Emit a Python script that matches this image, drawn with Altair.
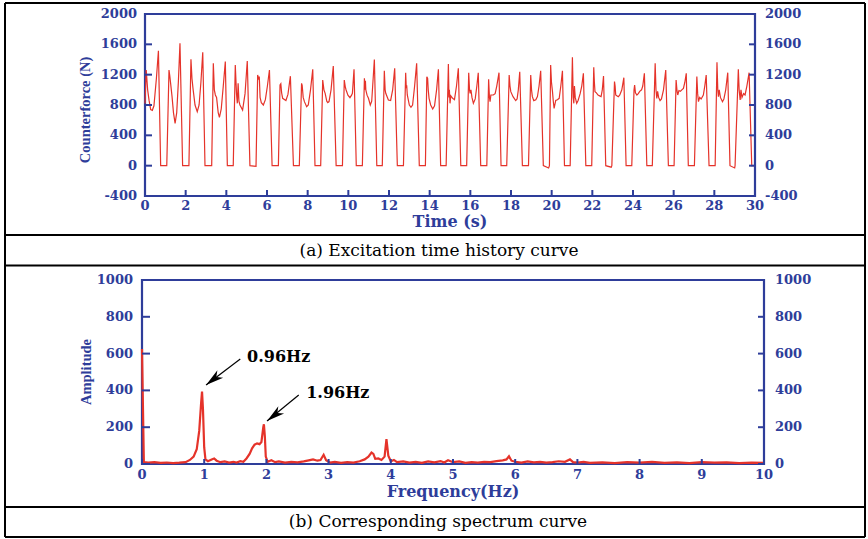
import altair as alt
import pandas as pd

# ---------------- data ----------------
time_s = [
    0.00, 0.06, 0.13, 0.20, 0.28, 0.36, 0.44, 0.56, 0.66, 0.77, 1.07,
    1.18, 1.22, 1.26, 1.33, 1.40, 1.48, 1.56, 1.64, 1.72, 1.85, 2.16,
    2.26, 2.31, 2.36, 2.46, 2.57, 2.66, 2.75, 2.84, 2.95, 3.28,
    3.36, 3.41, 3.46, 3.52, 3.60, 3.66, 3.75, 3.85, 3.95, 4.05, 4.34,
    4.44, 4.50, 4.54, 4.58, 4.62, 4.67, 4.80, 4.92, 5.03, 5.16, 5.46,
    5.54, 5.58, 5.62, 5.66, 5.72, 5.82, 5.92, 6.02, 6.12, 6.25, 6.56,
    6.64, 6.68, 6.72, 6.77, 6.93, 7.03, 7.15, 7.30, 7.59,
    7.70, 7.73, 7.78, 7.84, 7.95, 8.03, 8.14, 8.25, 8.36, 8.64,
    8.74, 8.80, 8.86, 8.94, 8.99, 9.05, 9.15, 9.26, 9.40, 9.71,
    9.80, 9.85, 9.89, 9.98, 10.08, 10.16, 10.20, 10.28, 10.39, 10.69,
    10.79, 10.82, 10.84, 10.86, 10.92, 10.99, 11.08, 11.15, 11.28, 11.40, 11.67,
    11.77, 11.81, 11.84, 11.97, 12.08, 12.18, 12.28, 12.41, 12.71,
    12.82, 12.85, 12.87, 12.90, 13.00, 13.08, 13.16, 13.26, 13.36, 13.49, 13.79,
    13.86, 13.90, 13.93, 13.97, 14.05, 14.15, 14.24, 14.34, 14.43, 14.54, 14.81,
    14.92, 14.95, 14.97, 15.00, 15.04, 15.13, 15.22, 15.32, 15.41, 15.53, 15.82,
    15.92, 15.96, 15.99, 16.03, 16.08, 16.15, 16.24, 16.32, 16.39, 16.51, 16.81,
    16.90, 16.94, 16.97, 17.01, 17.13, 17.22, 17.30, 17.41, 17.51, 17.79,
    17.91, 17.95, 17.99, 18.10, 18.23, 18.30, 18.36, 18.43, 18.56, 18.86,
    18.97, 19.01, 19.05, 19.12, 19.22, 19.30, 19.38, 19.46, 19.59, 19.85, 19.89,
    19.95, 19.99, 20.04, 20.08, 20.12, 20.20, 20.28, 20.37, 20.45, 20.53, 20.63, 20.91,
    21.02, 21.06, 21.09, 21.12, 21.16, 21.23, 21.30, 21.40, 21.48, 21.56, 21.68, 21.97,
    22.07, 22.10, 22.13, 22.20, 22.28, 22.36, 22.43, 22.49, 22.55, 22.66, 22.93, 22.96,
    23.09, 23.12, 23.15, 23.22, 23.28, 23.35, 23.45, 23.55, 23.66, 23.94,
    24.05, 24.08, 24.12, 24.19, 24.26, 24.33, 24.42, 24.48, 24.56, 24.68, 24.95,
    25.09, 25.13, 25.17, 25.21, 25.26, 25.33, 25.40, 25.50, 25.61, 25.74, 26.02,
    26.12, 26.16, 26.20, 26.26, 26.33, 26.40, 26.48, 26.55, 26.62, 26.72, 27.02,
    27.14, 27.18, 27.22, 27.28, 27.35, 27.46, 27.53, 27.60, 27.74, 28.04,
    28.13, 28.17, 28.20, 28.24, 28.30, 28.40, 28.47, 28.56, 28.66, 28.77, 29.00, 29.02,
    29.18, 29.22, 29.27, 29.31, 29.36, 29.44, 29.51, 29.60, 29.71, 29.84, 30.00,
]
force_n = [
    820, 1260, 1000, 860, 740, 730, 790, 1150, 1516, 0, 0,
    1262, 1180, 1086, 910, 700, 558, 700, 1100, 1613, 0, 0,
    1402, 1150, 1020, 800, 712, 800, 1100, 1495, 0, 0,
    1350, 1000, 932, 900, 700, 637, 750, 1050, 1372, 0, 0,
    1328, 950, 822, 1086, 850, 800, 734, 950, 1380, 0, -10,
    1196, 1150, 1174, 900, 830, 800, 870, 1050, 1262, 0, 0,
    1064, 1080, 960, 888, 860, 940, 1180, 0, 0,
    1086, 1060, 900, 844, 778, 800, 1000, 1270, 0, 0,
    1130, 1000, 954, 850, 832, 845, 1000, 1313, 0, 0,
    1130, 1040, 998, 930, 897, 930, 954, 1270, 0, 0,
    1152, 1000, 1120, 998, 930, 888, 800, 850, 1401, 0, 0,
    1252, 1000, 954, 866, 860, 1000, 1283, 0, 0,
    1226, 1021, 1060, 932, 800, 770, 800, 1050, 1349, 0, 0,
    1174, 1150, 1000, 888, 800, 748, 790, 1000, 1270, 0, 0,
    1340, 900, 1000, 822, 920, 888, 870, 1050, 1283, 0, 0,
    1226, 1000, 954, 1000, 900, 822, 880, 1050, 1226, 0, 0,
    1138, 900, 844, 932, 932, 950, 1050, 1226, 0, 0,
    1196, 1050, 976, 910, 858, 880, 1000, 1239, 0, 0,
    1196, 1000, 910, 858, 870, 910, 1050, 1252, 0, -30, 0,
    1327, 1100, 976, 850, 756, 860, 870, 888, 1050, 1252, 0, 0,
    1428, 900, 822, 1050, 900, 822, 860, 950, 1050, 1217, 0, 0,
    1296, 1100, 976, 960, 930, 920, 910, 1000, 1182, 0, -20, 0,
    1108, 1050, 932, 920, 910, 932, 1000, 1160, 0, 0,
    998, 1064, 960, 932, 950, 980, 1000, 1050, 1217, 0, 0,
    1349, 1000, 888, 980, 900, 858, 880, 1000, 1261, 0, 0,
    1130, 1000, 932, 990, 980, 1000, 1020, 1100, 1217, 0, 0,
    1174, 950, 844, 900, 880, 932, 1050, 1196, 0, 0,
    1362, 1000, 910, 1000, 900, 844, 880, 1000, 1226, 0, -30, 0,
    1270, 1000, 866, 1000, 900, 950, 932, 1050, 1226, 0, 0,
]

freq_hz = [
    0.00, 0.03, 0.10, 0.20, 0.30, 0.40, 0.50, 0.60, 0.70, 0.77, 0.83, 0.88,
    0.92, 0.95, 0.965, 0.98, 1.00, 1.02, 1.06, 1.12, 1.16, 1.20, 1.26, 1.33,
    1.40, 1.47, 1.52, 1.58, 1.63, 1.68, 1.73, 1.77, 1.81, 1.85, 1.89, 1.92,
    1.95, 1.96, 1.975, 1.99, 2.02, 2.08, 2.14, 2.20, 2.30, 2.40, 2.50, 2.60,
    2.68, 2.75, 2.82, 2.87, 2.92, 2.96, 3.02, 3.10, 3.20, 3.30, 3.40, 3.50,
    3.58, 3.64, 3.69, 3.72, 3.75, 3.80, 3.85, 3.90, 3.93, 3.96, 4.00, 4.05,
    4.10, 4.20, 4.30, 4.40, 4.50, 4.60, 4.70, 4.80, 4.86, 4.92, 5.00, 5.10,
    5.20, 5.30, 5.40, 5.50, 5.60, 5.70, 5.80, 5.86, 5.90, 5.94, 6.00, 6.10,
    6.20, 6.30, 6.40, 6.50, 6.60, 6.70, 6.80, 6.88, 6.93, 7.00, 7.10, 7.20,
    7.40, 7.60, 7.80, 8.00, 8.20, 8.40, 8.60, 8.80, 9.00, 9.20, 9.40, 9.60,
    9.80, 10.00,
]
amplitude = [
    625, 10, 8, 10, 6, 8, 5, 7, 10, 22, 40, 80,
    180, 330, 394, 300, 90, 25, 15, 25, 30, 18, 10, 14,
    8, 12, 8, 15, 12, 30, 55, 85, 105, 112, 108, 120,
    200, 216, 150, 40, 12, 20, 10, 14, 8, 12, 9, 14,
    20, 25, 18, 22, 50, 20, 8, 12, 6, 10, 8, 15,
    25, 40, 62, 55, 28, 30, 22, 40, 135, 45, 15, 22,
    10, 14, 8, 12, 6, 14, 9, 16, 8, 20, 10, 14,
    6, 10, 8, 12, 10, 16, 20, 25, 42, 18, 12, 8,
    14, 9, 12, 7, 10, 15, 12, 25, 10, 8, 12, 6,
    9, 5, 10, 7, 12, 6, 9, 5, 10, 7, 9, 5,
    8, 6,
]

a_y_ticks = [-400, 0, 400, 800, 1200, 1600, 2000]
a_y_labels = ["-400", "0", "400", "800", "1200", "1600", "2000"]
a_x_ticks = [0, 2, 4, 6, 8, 10, 12, 14, 16, 18, 20, 22, 24, 26, 28, 30]
a_x_labels = [str(v) for v in a_x_ticks]
b_y_ticks = [0, 200, 400, 600, 800, 1000]
b_y_labels = ["0", "200", "400", "600", "800", "1000"]
b_x_ticks = [0, 1, 2, 3, 4, 5, 6, 7, 8, 9, 10]
b_x_labels = [str(v) for v in b_x_ticks]

ann_label = ["0.96Hz", "1.96Hz"]
ann_tail_f = [1.58, 2.52]
ann_tail_a = [571, 375]
ann_tip_f = [1.03, 2.01]
ann_tip_a = [429, 234]
ann_text_f = [1.69, 2.64]
ann_text_a = [582, 386]

# ---------------- styling ----------------
BLUE = "#2E3D9A"
RED = "#E5332A"
NUMFONT = "DejaVu Serif"
SERIF = "Liberation Serif"

xa = alt.Scale(domain=[0, 30], range=[145, 755], nice=False, zero=False)
ya = alt.Scale(domain=[-400, 2000], range=[196, 14], nice=False, zero=False)
xb = alt.Scale(domain=[0, 10], range=[142, 764], nice=False, zero=False)
yb = alt.Scale(domain=[0, 1000], range=[464, 280], nice=False, zero=False)

# ---------------- panel A ----------------
dfA = pd.DataFrame({"t": time_s, "v": force_n})
frameA = pd.DataFrame({"x0": [0], "x1": [30], "y0": [-400], "y1": [2000]})
ytA = pd.DataFrame({"v": a_y_ticks, "lab": a_y_labels, "x0": 0, "x1": 30})
xtA = pd.DataFrame({"t": a_x_ticks, "lab": a_x_labels, "y0": -400})
titleA = pd.DataFrame({"t": [15, 0], "v": [-400, 735], "lab": ["Time (s)", "Counterforce (N)"]})

XA = lambda f: alt.X(f, type="quantitative", scale=xa, axis=None)
YA = lambda f: alt.Y(f, type="quantitative", scale=ya, axis=None)

a_frame = alt.Chart(frameA).mark_rect(fillOpacity=0, stroke=BLUE, strokeWidth=2.2).encode(
    x=XA("x0"), x2="x1", y=YA("y0"), y2="y1")
a_line = alt.Chart(dfA).mark_line(color=RED, strokeWidth=1.2).encode(x=XA("t"), y=YA("v"))
a_lt = alt.Chart(ytA).mark_tick(orient="horizontal", size=7, thickness=2, color=BLUE, xOffset=3.5, opacity=1).encode(
    x=XA("x0"), y=YA("v"))
a_rt = alt.Chart(ytA).mark_tick(orient="horizontal", size=6, thickness=2, color=BLUE, xOffset=-3, opacity=1).encode(
    x=XA("x1"), y=YA("v"))
a_bt = alt.Chart(xtA).mark_tick(orient="vertical", size=6, thickness=2, color=BLUE, yOffset=-3, opacity=1).encode(
    x=XA("t"), y=YA("y0"))
lab_style = dict(font=NUMFONT, fontWeight="bold", fontSize=13, color=BLUE, baseline="middle")
a_ll = alt.Chart(ytA).mark_text(align="right", dx=-8, **lab_style).encode(x=XA("x0"), y=YA("v"), text="lab:N")
a_rl = alt.Chart(ytA).mark_text(align="left", dx=10, **lab_style).encode(x=XA("x1"), y=YA("v"), text="lab:N")
a_bl = alt.Chart(xtA).mark_text(align="center", dy=10, **lab_style).encode(x=XA("t"), y=YA("y0"), text="lab:N")
a_xt = alt.Chart(titleA.iloc[[0]]).mark_text(align="center", baseline="middle", dy=26, font=NUMFONT,
                                              fontWeight="bold", fontSize=16, color=BLUE).encode(
    x=XA("t"), y=YA("v"), text="lab:N")
a_yt = alt.Chart(titleA.iloc[[1]]).mark_text(align="center", baseline="middle", dy=-59, angle=270, font=SERIF,
                                              fontWeight="bold", fontSize=14.5, color=BLUE).encode(
    x=XA("t"), y=YA("v"), text="lab:N")
panelA = alt.layer(a_frame, a_line, a_lt, a_rt, a_bt, a_ll, a_rl, a_bl, a_xt, a_yt)

# ---------------- panel B ----------------
dfB = pd.DataFrame({"f": freq_hz, "a": amplitude})
frameB = pd.DataFrame({"x0": [0], "x1": [10], "y0": [0], "y1": [1000]})
ytB = pd.DataFrame({"v": b_y_ticks, "lab": b_y_labels, "x0": 0, "x1": 10})
xtB = pd.DataFrame({"f": b_x_ticks, "lab": b_x_labels, "y0": 0})
titleB = pd.DataFrame({"f": [5, 0], "a": [0, 500], "lab": ["Frequency(Hz)", "Amplitude"]})
annB = pd.DataFrame({"lab": ann_label, "f0": ann_tail_f, "a0": ann_tail_a, "f1": ann_tip_f,
                     "a1": ann_tip_a, "ft": ann_text_f, "at": ann_text_a})

XB = lambda f: alt.X(f, type="quantitative", scale=xb, axis=None)
YB = lambda f: alt.Y(f, type="quantitative", scale=yb, axis=None)

b_frame = alt.Chart(frameB).mark_rect(fillOpacity=0, stroke=BLUE, strokeWidth=2.2).encode(
    x=XB("x0"), x2="x1", y=YB("y0"), y2="y1")
b_line = alt.Chart(dfB).mark_line(color=RED, strokeWidth=2.2).encode(x=XB("f"), y=YB("a"))
b_lt = alt.Chart(ytB).mark_tick(orient="horizontal", size=8, thickness=2, color=BLUE, xOffset=4, opacity=1).encode(
    x=XB("x0"), y=YB("v"))
b_rt = alt.Chart(ytB).mark_tick(orient="horizontal", size=6, thickness=2, color=BLUE, xOffset=-3, opacity=1).encode(
    x=XB("x1"), y=YB("v"))
b_bt = alt.Chart(xtB).mark_tick(orient="vertical", size=5, thickness=2, color=BLUE, yOffset=-2.5, opacity=1).encode(
    x=XB("f"), y=YB("y0"))
b_ll = alt.Chart(ytB).mark_text(align="right", dx=-9, **lab_style).encode(x=XB("x0"), y=YB("v"), text="lab:N")
b_rl = alt.Chart(ytB).mark_text(align="left", dx=11, **lab_style).encode(x=XB("x1"), y=YB("v"), text="lab:N")
b_bl = alt.Chart(xtB).mark_text(align="center", dy=11, **lab_style).encode(x=XB("f"), y=YB("y0"), text="lab:N")
b_xt = alt.Chart(titleB.iloc[[0]]).mark_text(align="center", baseline="middle", dy=28, font=NUMFONT,
                                              fontWeight="bold", fontSize=16, color=BLUE).encode(
    x=XB("f"), y=YB("a"), text="lab:N")
b_yt = alt.Chart(titleB.iloc[[1]]).mark_text(align="center", baseline="middle", dy=-55, angle=270, font=SERIF,
                                              fontWeight="bold", fontSize=14.5, color=BLUE).encode(
    x=XB("f"), y=YB("a"), text="lab:N")
ARROW = "M0,0 L0.26,1 L0,0.72 L-0.26,1 Z"
b_arrow_line = alt.Chart(annB).mark_rule(color="black", strokeWidth=1.2).encode(
    x=XB("f0"), y=YB("a0"), x2="f1", y2="a1")
b_arrow_head = alt.Chart(annB).mark_point(shape=ARROW, size=1300, angle=232, filled=True, color="black",
                                          opacity=1, strokeWidth=0).encode(x=XB("f1"), y=YB("a1"))
b_ann = alt.Chart(annB).mark_text(align="left", baseline="middle", font=NUMFONT, fontWeight="bold",
                                  fontSize=16, color="black").encode(x=XB("ft"), y=YB("at"), text="lab:N")
panelB = alt.layer(b_frame, b_line, b_lt, b_rt, b_bt, b_ll, b_rl, b_bl, b_xt, b_yt,
                   b_arrow_line, b_arrow_head, b_ann)

# ---------------- table borders and captions ----------------
one = pd.DataFrame({"k": [0]})
hlines = []
for yy in [3, 235, 265.5, 507, 537]:
    hlines.append(alt.Chart(one).mark_rule(color="black", strokeWidth=2).encode(
        x=alt.value(5), x2=alt.value(865), y=alt.value(yy)))
vlines = []
for xx in [5, 865]:
    vlines.append(alt.Chart(one).mark_rule(color="black", strokeWidth=2).encode(
        x=alt.value(xx), y=alt.value(3), y2=alt.value(537)))
cap_style = dict(font="DejaVu Serif", fontSize=17, color="black", align="center", baseline="middle")
capA = alt.Chart(one).mark_text(text="(a) Excitation time history curve", **cap_style).encode(
    x=alt.value(439), y=alt.value(251))
capB = alt.Chart(one).mark_text(text="(b) Corresponding spectrum curve", **cap_style).encode(
    x=alt.value(438), y=alt.value(522))
decor = alt.layer(*hlines, *vlines, capA, capB)

chart = alt.layer(panelA, panelB, decor).resolve_scale(
    x="independent", y="independent"
).properties(
    width=868, height=539, autosize=alt.AutoSizeParams(type="none"), padding=0,
    background="white"
).configure_view(stroke=None)

chart.save("out.html", embed_options={"renderer": "svg", "actions": False})
